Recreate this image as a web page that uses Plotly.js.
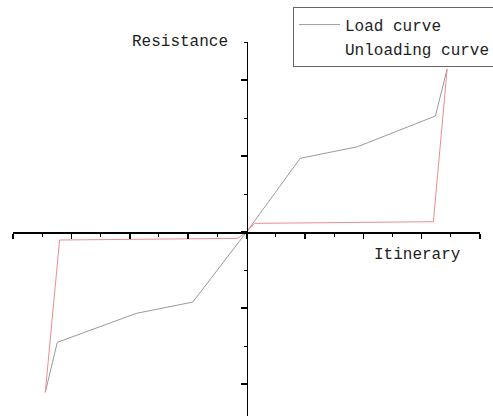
<!DOCTYPE html>
<html>
<head>
<meta charset="utf-8">
<script src="https://cdn.plot.ly/plotly-3.0.1.min.js"></script>
<style>
  html, body { margin: 0; padding: 0; background: #fff; }
  #chart { width: 493px; height: 416px; }
</style>
</head>
<body>
<div id="chart"></div>
<script>
// Load curve: itinerary vs. resistance
const loadX = [-3.447, -3.241, -1.889, -0.920, 0, 0.920, 1.900, 3.236, 3.437];
const loadY = [-2.109, -1.451, -1.070, -0.921, 0, 0.970, 1.122, 1.526, 2.145];

// Unloading curve
const unloadX = [-3.447, -3.202, -0.154, 0, 0.137, 3.202, 3.437];
const unloadY = [-2.109, -0.105, -0.083, 0, 0.114, 0.136, 2.145];

const seriesNames = ['Load curve', 'Unloading curve'];
const axisTitles = { x: 'Itinerary', y: 'Resistance' };

const xRange = [-4, 4];
const yRange = [-2.42, 2.5];

const FONT = '"Liberation Mono", "DejaVu Sans Mono", monospace';

const traces = [
  {
    x: loadX, y: loadY, type: 'scatter', mode: 'lines',
    name: seriesNames[0],
    line: { color: '#9a9a9a', width: 1 }
  },
  {
    x: unloadX, y: unloadY, type: 'scatter', mode: 'lines',
    name: seriesNames[1], showlegend: false,
    line: { color: '#f08c8c', width: 1 }
  },
  // legend entry for the unloading curve, drawn without a line sample
  {
    x: [null], y: [null], type: 'scatter', mode: 'lines',
    name: seriesNames[1],
    line: { color: 'rgba(0,0,0,0)', width: 1 },
    hoverinfo: 'skip'
  }
];

// place each axis line where the other axis passes through zero
const xAxisPos = (0 - yRange[0]) / (yRange[1] - yRange[0]);
const yAxisPos = (0 - xRange[0]) / (xRange[1] - xRange[0]);

const layout = {
  width: 493, height: 416,
  margin: { l: 13, r: 13, t: 42, b: 0, autoexpand: false },
  paper_bgcolor: '#fff', plot_bgcolor: 'rgba(0,0,0,0)',
  font: { family: FONT, size: 16, color: '#222' },
  xaxis: {
    range: xRange, anchor: 'free', position: xAxisPos,
    showline: true, linecolor: '#000', linewidth: 1.5,
    showgrid: false, zeroline: false, showticklabels: false,
    ticks: 'outside', dtick: 1, tick0: 0, ticklen: 5, tickwidth: 1.5, tickcolor: '#000',
    minor: { ticks: 'outside', dtick: 0.5, tick0: 0, ticklen: 3, tickwidth: 1, tickcolor: '#000', showgrid: false }
  },
  yaxis: {
    range: yRange, anchor: 'free', position: yAxisPos,
    showline: true, linecolor: '#000', linewidth: 1.5,
    showgrid: false, zeroline: false, showticklabels: false,
    ticks: 'outside', dtick: 1, tick0: 0, ticklen: 6, tickwidth: 1.5, tickcolor: '#000',
    minor: { ticks: 'outside', dtick: 0.5, tick0: 0, ticklen: 3, tickwidth: 1, tickcolor: '#000', showgrid: false }
  },
  showlegend: true,
  legend: {
    x: 0.5996, y: 1.0944, xanchor: 'left', yanchor: 'top',
    bordercolor: '#666', borderwidth: 1, bgcolor: 'rgba(255,255,255,0)',
    font: { family: FONT, size: 16, color: '#222' },
    tracegroupgap: 0, itemwidth: 41
  },
  annotations: [
    {
      text: axisTitles.y, xref: 'paper', yref: 'paper',
      x: 0.4647, y: 1.0, xanchor: 'right', yanchor: 'middle',
      showarrow: false, font: { family: FONT, size: 16, color: '#222' }
    },
    {
      text: axisTitles.x, xref: 'paper', yref: 'paper',
      x: 0.9636, y: 0.43, xanchor: 'right', yanchor: 'middle',
      showarrow: false, font: { family: FONT, size: 16, color: '#222' }
    }
  ]
};

Plotly.newPlot('chart', traces, layout, { displayModeBar: false, staticPlot: true });
</script>
</body>
</html>
